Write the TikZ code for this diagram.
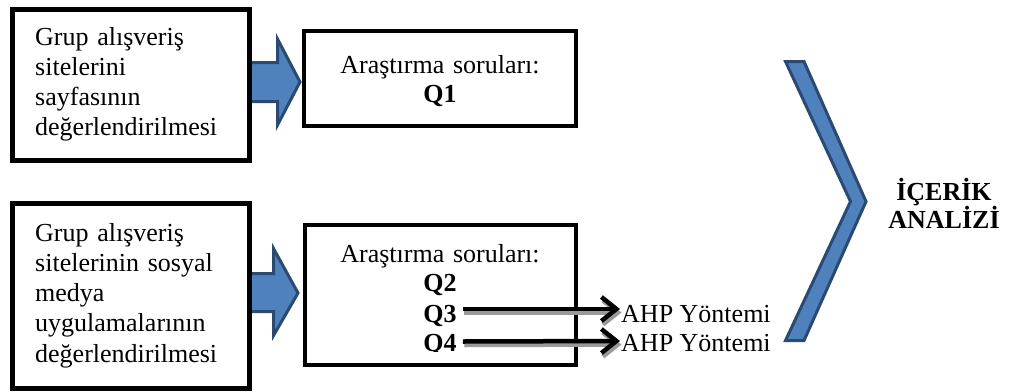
\documentclass[tikz,border=0pt]{standalone}
\usepackage{fontspec}
\setmainfont{Liberation Serif}
\usetikzlibrary{arrows.meta,calc}
\definecolor{arrfill}{HTML}{4F81BD}
\definecolor{arrline}{HTML}{2A4A72}
\definecolor{shadowgray}{HTML}{9A9A9A}
\begin{document}
\begin{tikzpicture}[x=1pt,y=-1pt,
  lbox/.style={draw=black,line width=5pt,fill=white,inner sep=0pt,minimum width=237pt},
  rbox/.style={draw=black,line width=4pt,inner sep=0pt},
  ltext/.style={inner sep=0pt,text width=220pt,align=left,font=\fontsize{26}{30.3}\selectfont},
  rtext/.style={inner sep=0pt,text width=260pt,align=center,font=\fontsize{26}{29.5}\selectfont},
  qtext/.style={inner sep=0pt,font=\fontsize{26}{30}\selectfont\bfseries},
  ahptext/.style={inner sep=0pt,font=\fontsize{26}{30}\selectfont},
  blockarr/.style={fill=arrfill,draw=arrline,line width=3pt,line join=miter},
  qarrow/.style={line width=4.5pt,-{Straight Barb[length=15pt,width=24pt]},
     preaction={draw=shadowgray,line width=4.5pt,-{Straight Barb[length=15pt,width=24pt]},transform canvas={shift={(1.5pt,-3.5pt)}}}}
]
\useasboundingbox (0,0) rectangle (1011,391);

% block arrows (drawn first, boxes overlay their tails)
\draw[blockarr] (248,62.5) -- (277.5,62.5) -- (277.5,39) -- (300,82) -- (277.5,125) -- (277.5,101.5) -- (248,101.5) -- cycle;
\draw[blockarr] (246,273.5) -- (273.5,273.5) -- (273.5,248.5) -- (298,293) -- (273.5,335.5) -- (273.5,311.5) -- (246,311.5) -- cycle;

% left boxes
\node[lbox,minimum height=151pt] (b1) at (131,85) {};
\node[lbox,minimum height=185pt] (b3) at (131,296) {};
\node[ltext,anchor=base west] (t1) at (35,45) {Grup alışveriş\\sitelerini\\sayfasının\\değerlendirilmesi};
\node[ltext,anchor=base west] (t3) at (35,241) {Grup alışveriş\\sitelerinin sosyal\\medya\\uygulamalarının\\değerlendirilmesi};

% right boxes
\node[rbox,minimum width=272pt,minimum height=95pt] (b2) at (440,78.5) {};
\node[rtext,anchor=base] (t2) at (440,73) {Araştırma soruları:\\\textbf{Q1}};

\node[rtext,anchor=base] (t4) at (440,262) {Araştırma soruları:\\\textbf{Q2}};
\node[qtext,anchor=base] (q3) at (440,322) {Q3};
\begin{scope}
  \clip (305,225) rectangle (576,351.5);
  \node[qtext,anchor=base] (q4) at (440,351.5) {Q4};
\end{scope}
\node[rbox,minimum width=271pt,minimum height=140pt] (b4) at (440.5,295) {};

% AHP labels
\node[ahptext,anchor=base west] (a1) at (621,322) {AHP Yöntemi};
\node[ahptext,anchor=base west] (a2) at (621,351) {AHP Yöntemi};

\draw[qarrow] ([xshift=6pt,yshift=13pt]q3.base east) -- ([xshift=-1pt,yshift=13pt]a1.base west);
\draw[qarrow] ([xshift=6pt,yshift=10pt]q4.base east) -- ([xshift=-1pt,yshift=10pt]a2.base west);

% chevron
\draw[blockarr] (785.5,61.5) -- (804,61.5) -- (866,201.5) -- (804,340.5) -- (785.5,340.5) -- (850.5,201.5) -- cycle;

\node[inner sep=0pt,text width=140pt,align=center,anchor=base,font=\fontsize{26}{28}\selectfont\bfseries] (ia) at (944,200) {İÇERİK\\ANALİZİ};
\end{tikzpicture}
\end{document}
